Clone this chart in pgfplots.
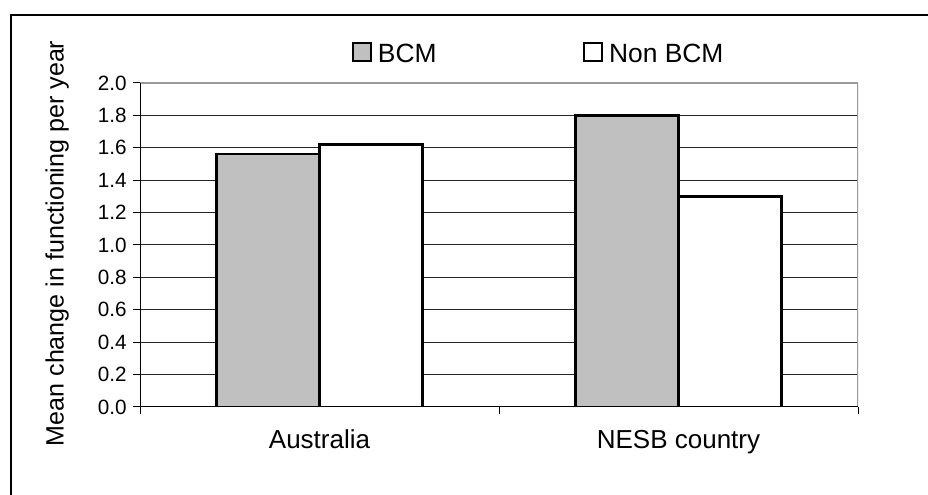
\documentclass[border=0pt]{standalone}
\usepackage{pgfplots}
\pgfplotsset{compat=1.18}
\usepackage{fontspec}
\setmainfont{Liberation Sans}
\definecolor{bcmgray}{HTML}{C0C0C0}
\definecolor{bordergray}{HTML}{999999}
\begin{document}
\begin{tikzpicture}
\useasboundingbox (0,0) rectangle (696pt,371.25pt);
\draw[line width=0.8pt] (8.25pt,-1pt) -- (8.25pt,360pt) -- (697pt,360pt);
\begin{axis}[
  at={(105pt,66pt)}, anchor=south west,
  scale only axis, width=538.5pt, height=243pt,
  xmin=0, xmax=2, ymin=0, ymax=2,
  axis line style={draw=none},
  ytick={0,0.2,0.4,0.6,0.8,1.0,1.2,1.4,1.6,1.8,2.0},
  ymajorgrids, grid style={black!85, line width=0.75pt},
  xtick={0,1,2}, xticklabels={},
  extra x ticks={0.5,1.5}, extra x tick labels={Australia,NESB country},
  extra x tick style={major tick length=0pt, grid=none},
  tick align=outside, xtick pos=bottom, ytick pos=left,
  major tick length=5.25pt, tick style={black, line width=0.75pt},
  /pgf/number format/assume math mode=true,
  yticklabel style={font=\fontsize{15.5}{18}\selectfont, xshift=-1.3pt,
    /pgf/number format/fixed, /pgf/number format/fixed zerofill, /pgf/number format/precision=1},
  xticklabel style={font=\fontsize{19.5}{23}\selectfont, yshift=-13.7pt},
  ylabel={Mean change in functioning per year},
  ylabel style={at={(axis description cs:-0.1155,0.505)}, anchor=center, font=\fontsize{18.8}{22}\selectfont},
  legend columns=2,
  legend style={draw=none, fill=none, at={(axis description cs:0.2953,1.092)}, anchor=west,
    inner sep=0pt, outer sep=0pt, font=\fontsize{19.8}{23}\selectfont, nodes={inner sep=0pt},
    /tikz/every odd column/.append style={column sep=4.5pt},
    /tikz/every even column/.append style={column sep=110pt}},
  legend image code/.code={\draw[#1, line width=1.5pt] (0pt,-5.5pt) rectangle (13.4pt,7.9pt);},
]
\addplot[ybar, bar width=0.287, bar shift=-0.1435, fill=bcmgray, draw=black, line width=1.7pt]
  coordinates {(0.5,1.56) (1.5,1.80)};
\addlegendentry{BCM}
\addplot[ybar, bar width=0.287, bar shift=0.1435, fill=white, draw=black, line width=1.7pt]
  coordinates {(0.5,1.62) (1.5,1.30)};
\addlegendentry{Non BCM}
\draw[line width=1.5pt, bordergray] (rel axis cs:0,1) -- (rel axis cs:1,1) -- (rel axis cs:1,0);
\draw[line width=0.9pt, black] (rel axis cs:0,1) -- (rel axis cs:0,0) -- (rel axis cs:1,0);
\end{axis}
\end{tikzpicture}
\end{document}
